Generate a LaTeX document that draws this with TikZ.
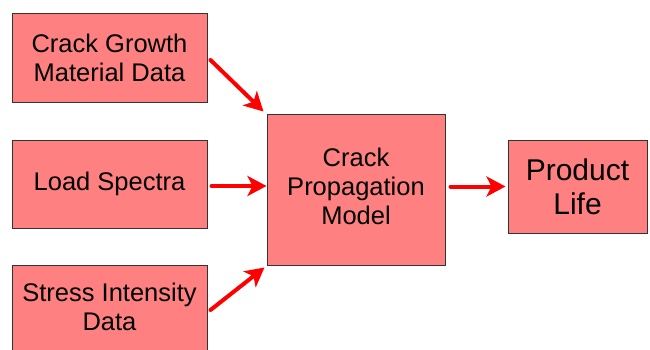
\documentclass[tikz,border=0pt]{standalone}
\usepackage{fontspec}
\setmainfont{Liberation Sans}
\usetikzlibrary{arrows.meta}
\definecolor{boxfill}{HTML}{FF8080}
\definecolor{boxline}{HTML}{333333}
\definecolor{arrred}{HTML}{FF0000}
\begin{document}
\begin{tikzpicture}[x=1pt,y=1pt,
  box/.style={draw=boxline,fill=boxfill,line width=1pt,inner sep=0pt,align=center,
    font=\fontsize{25.5}{29}\selectfont},
  bigbox/.style={box,font=\fontsize{30}{34}\selectfont},
  flow/.style={draw=arrred,line width=4pt,line cap=round,
    -{Stealth[length=19pt,width=20pt,inset=5pt]}}]
\useasboundingbox (0,0) rectangle (650,349);
\begin{scope}
\clip (0,0) rectangle (650,349);
\node[box,minimum width=195pt,minimum height=88pt] (b1) at (109.5,291) {Crack Growth\\Material Data};
\node[box,minimum width=195pt,minimum height=88pt] (b2) at (109.5,165) {Load Spectra};
\node[box,minimum width=195pt,minimum height=90pt] (b3) at (109.5,39) {\raisebox{6pt}{\begin{tabular}{@{}c@{}}Stress Intensity\\Data\end{tabular}}};
\node[box,minimum width=178pt,minimum height=151pt] (c) at (356,159.5) {\raisebox{3pt}{\begin{tabular}{@{}c@{}}Crack\\Propagation\\Model\end{tabular}}};
\node[bigbox,minimum width=139pt,minimum height=93pt] (p) at (577.5,162.5) {Product\\Life};
\end{scope}
\draw[flow] ([xshift=3pt,yshift=-2pt]b1.east) -- ([xshift=-3pt,yshift=2pt]c.north west);
\draw[flow] ([xshift=4pt,yshift=-2pt]b2.east) -- ([yshift=-2pt]b2.east -| c.west);
\draw[flow] ([xshift=3pt]b3.east) -- ([xshift=-2pt,yshift=-2pt]c.south west);
\draw[flow] ([xshift=5pt]c.east |- p.west) -- ([xshift=-2pt]p.west);
\end{tikzpicture}
\end{document}
